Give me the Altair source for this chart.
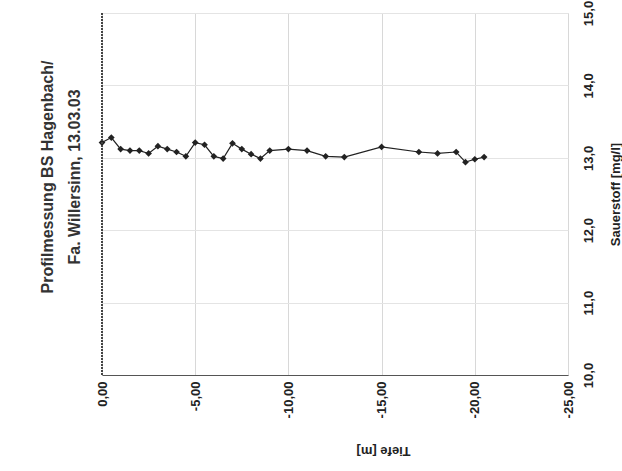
import altair as alt
import pandas as pd

# Depth profile (Tiefe [m]) and dissolved oxygen (Sauerstoff [mg/l])
depth = [0, -0.5, -1.0, -1.5, -2.0, -2.5, -3.0, -3.5, -4.0, -4.5, -5.0, -5.5,
         -6.0, -6.5, -7.0, -7.5, -8.0, -8.5, -9.0, -10, -11, -12, -13, -15,
         -17, -18, -19, -19.5, -20, -20.5]
oxygen = [13.21, 13.28, 13.12, 13.10, 13.10, 13.06, 13.16, 13.12, 13.08, 13.02,
          13.21, 13.18, 13.02, 12.99, 13.20, 13.12, 13.05, 12.99, 13.10, 13.12,
          13.10, 13.02, 13.01, 13.15, 13.08, 13.06, 13.08, 12.94, 12.98, 13.01]

depth_ticks = [0, -5, -10, -15, -20, -25]
oxygen_ticks = [10, 11, 12, 13, 14, 15]
title_lines = ["Profilmessung BS Hagenbach/", "Fa. Willersinn, 13.03.03"]

df = pd.DataFrame({"depth": depth, "oxygen": oxygen})
FONT = "Liberation Sans"

x_enc = alt.X(
    "depth:Q",
    scale=alt.Scale(domain=[0, -25], nice=False, zero=False),
    axis=alt.Axis(
        values=depth_ticks,
        labelExpr="(datum.value < 0 ? '-' : '') + replace(format(abs(datum.value), '.2f'), '.', ',')",
        labelAngle=270, labelAlign="right", labelBaseline="middle",
        labelPadding=6, labelFontSize=13, labelFont=FONT, labelColor="#222",
        labelFontWeight="bold",
        ticks=False, domain=True, domainColor="#555", domainWidth=1.2,
        grid=True, gridColor="#d8d8d8",
        title="Tiefe [m]", titleAngle=180, titleX=281, titleY=75,
        titleAlign="center", titleBaseline="middle",
        titleFontSize=13, titleFont=FONT, titleFontWeight="bold", titleColor="#222",
    ),
)
y_enc = alt.Y(
    "oxygen:Q",
    scale=alt.Scale(domain=[10, 15], nice=False, zero=False),
    axis=alt.Axis(
        orient="right", values=oxygen_ticks,
        labelExpr="replace(format(datum.value, '.1f'), '.', ',')",
        labelAngle=270, labelAlign="center", labelBaseline="top",
        labelPadding=14, labelFontSize=13, labelFont=FONT, labelColor="#222",
        labelFontWeight="bold",
        ticks=False, domain=False,
        grid=True, gridColor="#e4e4e4",
        title="Sauerstoff [mg/l]", titleAngle=270, titleX=47, titleY=181,
        titleAlign="center", titleBaseline="middle",
        titleFontSize=13, titleFont=FONT, titleFontWeight="bold", titleColor="#222",
    ),
)

line = alt.Chart(df).mark_line(
    color="#222", strokeWidth=1.2,
    point=alt.OverlayMarkDef(shape="diamond", filled=True, size=45, color="#222"),
).encode(x=x_enc, y=y_enc)

left_edge = alt.Chart(df).mark_rule(color="#444", strokeWidth=1.5, strokeDash=[2, 1]).encode(
    x=alt.datum(0)
)

chart = alt.layer(line, left_edge).properties(
    width=466, height=362,
    autosize=alt.AutoSizeParams(type="none"),
    padding={"left": 102, "top": 13, "right": 54, "bottom": 96},
    title=alt.TitleParams(
        text=title_lines, orient="left", anchor="middle", angle=270,
        frame="group", offset=13, dx=17,
        fontSize=16, fontWeight="bold", font=FONT, color="#333", lineHeight=27,
    ),
).configure_view(stroke="#999", strokeWidth=1).configure(background="white")

chart.save("out.html", embed_options={"renderer": "svg", "actions": False})
